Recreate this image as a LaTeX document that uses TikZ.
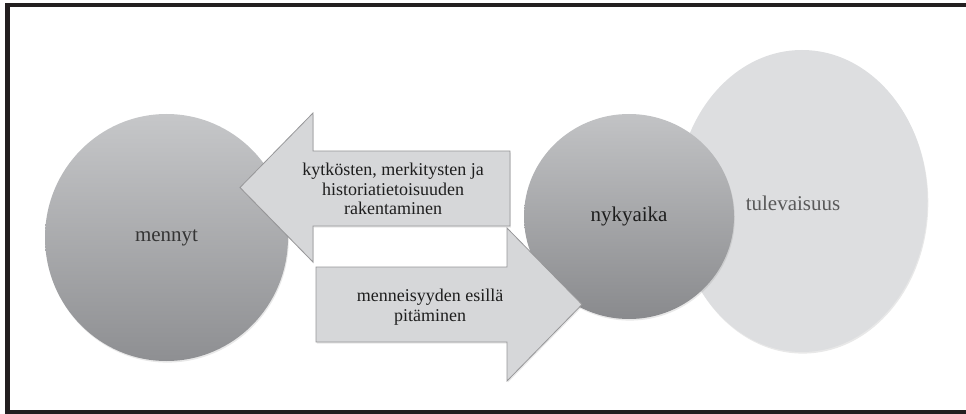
\documentclass[tikz,border=0pt]{standalone}
\usepackage{fontspec}
\setmainfont{Liberation Serif}
\usetikzlibrary{shapes.geometric, shadows}
\definecolor{frameline}{RGB}{35,31,32}
\definecolor{pasttop}{RGB}{198,199,201}
\definecolor{pastbot}{RGB}{142,143,146}
\definecolor{nowtop}{RGB}{194,195,197}
\definecolor{nowbot}{RGB}{137,138,141}
\definecolor{future}{RGB}{221,222,224}
\definecolor{arrowfill}{RGB}{214,215,217}
\definecolor{arrowline}{RGB}{150,150,152}
\definecolor{ink}{RGB}{30,30,30}

\begin{document}
\begin{tikzpicture}[x=1pt, y=-1pt,
  disc/.style={ellipse, inner sep=0pt,
               drop shadow={opacity=0.18, shadow xshift=0.8pt, shadow yshift=-1.6pt}},
  big/.style={font=\fontsize{21}{24}\selectfont},
  blockarrow/.style={fill=arrowfill, draw=arrowline, line width=0.8pt, line join=miter,
                     drop shadow={opacity=0.18, shadow xshift=0.8pt, shadow yshift=-1.6pt}},
  arrowtext/.style={align=center, text=ink, font=\fontsize{18}{19.5}\selectfont}]
  \useasboundingbox (0,0) rectangle (966,414);
  \clip (0,0) rectangle (966,414);

  % circles
  \node[disc, minimum width=243pt, minimum height=247pt,
        top color=pasttop, bottom color=pastbot, big, text=ink!90]
        (past) at (166.5,237.5) {mennyt};
  \node[disc, minimum width=251pt, minimum height=302pt, fill=future]
        (fut) at (802,201) {};
  \node[big, text=black!65] (futlabel) at ([xshift=-9pt, yshift=-2pt]fut.center) {tulevaisuus};
  \node[disc, minimum width=210pt, minimum height=205pt,
        top color=nowtop, bottom color=nowbot, big, text=ink]
        (now) at (629,216.5) {nykyaika};

  % block arrows
  \path[blockarrow] (510,151) -- (313,151) -- (313,113) -- (240,187.5)
        -- (313,262) -- (313,226) -- (510,226) -- cycle;
  \path[blockarrow] (316,267) -- (507,267) -- (507,228) -- (582,304.5)
        -- (507,381) -- (507,342) -- (316,342) -- cycle;
  \node[arrowtext] (build) at (393,189)
        {kytkösten, merkitysten ja\\historiatietoisuuden\\rakentaminen};
  \node[arrowtext] (keep) at (430,307) {menneisyyden esillä\\pitäminen};

  % frame
  \draw[frameline, line width=4.5pt] (970,5) -- (7.5,5) -- (7.5,412) -- (970,412);
\end{tikzpicture}
\end{document}
